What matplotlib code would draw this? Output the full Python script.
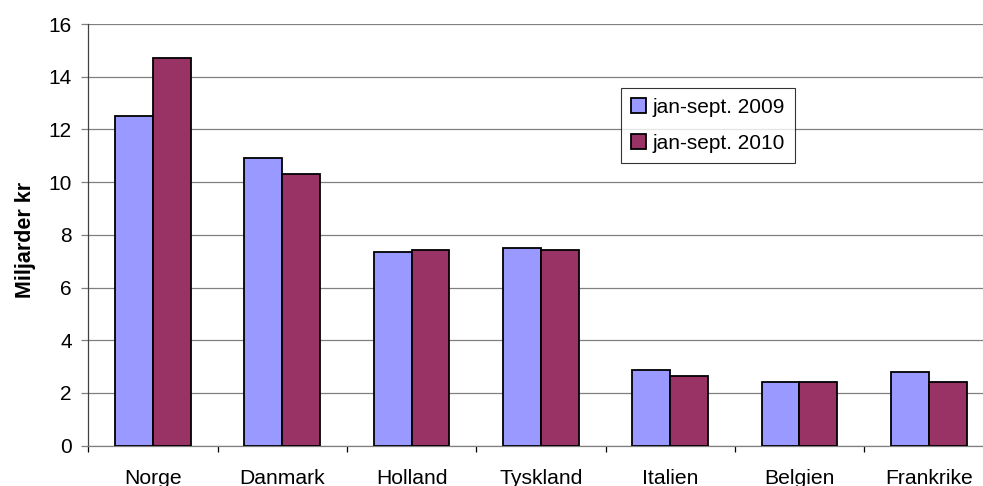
import matplotlib
matplotlib.use("Agg")
import matplotlib.pyplot as plt
import numpy as np

categories = ["Norge", "Danmark", "Holland", "Tyskland", "Italien", "Belgien", "Frankrike"]
series_names = ["jan-sept. 2009", "jan-sept. 2010"]
values_2009 = [12.5, 10.9, 7.35, 7.5, 2.88, 2.42, 2.8]
values_2010 = [14.7, 10.3, 7.44, 7.44, 2.65, 2.42, 2.42]
y_ticks = [0, 2, 4, 6, 8, 10, 12, 14, 16]

plt.rcParams['font.family'] = ['Liberation Sans', 'DejaVu Sans']

W, H = 983, 486
fig = plt.figure(figsize=(W / 100, H / 100), dpi=100)
left, right, bottom, top = 88.3, 993.4, 445.7, 24.0
ax = fig.add_axes([left / W, (H - bottom) / H, (right - left) / W, (bottom - top) / H])

x = np.arange(len(categories))
bw = 0.292
ax.bar(x - bw / 2, values_2009, bw, color='#9999FF', edgecolor='black', linewidth=1.3,
       label=series_names[0], zorder=3)
ax.bar(x + bw / 2, values_2010, bw, color='#993366', edgecolor='black', linewidth=1.3,
       label=series_names[1], zorder=3)

ax.set_xlim(-0.5, len(categories) - 0.5)
ax.set_ylim(0, 16)
ax.set_yticks(y_ticks)
ax.yaxis.grid(True, color='#808080', linewidth=0.9, zorder=0)
ax.set_axisbelow(True)

ax.set_xticks(x)
ax.set_xticklabels(categories, fontsize=15.2)
ax.set_xticks(np.arange(-0.5, len(categories) - 0.4, 1.0), minor=True)
ax.tick_params(axis='x', which='major', length=0, pad=17)
ax.tick_params(axis='x', which='minor', length=4.5, width=0.9, color='black', direction='out')
ax.tick_params(axis='y', length=4.8, width=0.9, pad=7, labelsize=15, color='#808080')

for s in ['top', 'right']:
    ax.spines[s].set_visible(False)
ax.spines['left'].set_color('#404040')
ax.spines['left'].set_linewidth(0.9)
ax.spines['bottom'].set_color('#808080')
ax.spines['bottom'].set_linewidth(0.9)

ax.set_ylabel("Miljarder kr", fontsize=15.5, fontweight='bold')
ax.yaxis.set_label_coords(-0.058, 0.487)

leg = ax.legend(loc='upper left', bbox_to_anchor=((620.7 - left) / (right - left), (bottom - 87.7) / (bottom - top)),
                borderaxespad=0, fontsize=15, frameon=True, fancybox=False, shadow=False,
                handlelength=0.72, handleheight=0.72, handletextpad=0.3, labelspacing=0.8,
                borderpad=0.5)
leg.get_frame().set_edgecolor('black')
leg.get_frame().set_linewidth(0.8)

fig.savefig("out.png", dpi=100)
